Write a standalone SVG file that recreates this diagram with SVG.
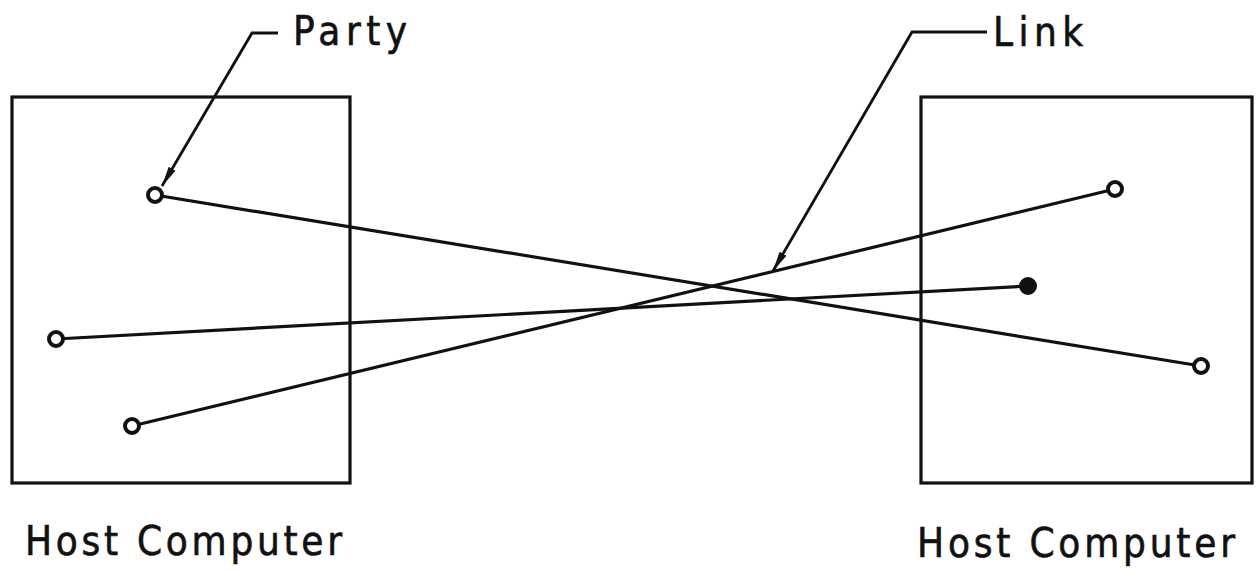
<svg xmlns="http://www.w3.org/2000/svg" width="1257" height="571" viewBox="0 0 1257 571">
<style>
.box{fill:none;stroke:#111;stroke-width:3.2}
.ln{fill:none;stroke:#111;stroke-width:3.2}
.ld{fill:none;stroke:#111;stroke-width:2.8}
.pt{fill:#fff;stroke:#111;stroke-width:4}
.lbl{font-family:"DejaVu Sans Condensed","DejaVu Sans",sans-serif;font-size:40px;fill:#111;stroke:#111;stroke-width:0.6}
</style>
<defs>
<marker id="ah" viewBox="0 0 20 10" refX="20" refY="5" markerWidth="20" markerHeight="10" markerUnits="userSpaceOnUse" orient="auto">
<path d="M0,1 L20,5 L0,9 Z" fill="#111"/>
</marker>
</defs>
<rect width="1257" height="571" fill="#fff"/>
<g id="host-left">
<rect class="box" x="12" y="97" width="338" height="386"/>
<text class="lbl" x="25" y="555" textLength="317" lengthAdjust="spacing">Host Computer</text>
</g>
<g id="host-right">
<rect class="box" x="921" y="97" width="331" height="386"/>
<text class="lbl" x="917" y="557" textLength="318" lengthAdjust="spacing">Host Computer</text>
</g>
<g id="connectors">
<line class="ln" x1="155" y1="195" x2="1201" y2="366"/>
<line class="ln" x1="56" y1="339" x2="1028" y2="286"/>
<line class="ln" x1="132" y1="426" x2="1115" y2="189"/>
<polyline class="ld" points="278,33 252,33 162,186" marker-end="url(#ah)"/>
<polyline class="ld" points="987,32 912,32 773,271" marker-end="url(#ah)"/>
</g>
<g id="party-label">
<text class="lbl" x="293" y="45" textLength="114" lengthAdjust="spacing">Party</text>
</g>
<g id="link-label">
<text class="lbl" x="993" y="46" textLength="90" lengthAdjust="spacing">Link</text>
</g>
<g id="parties">
<circle class="pt" cx="155" cy="195" r="7"/>
<circle class="pt" cx="56" cy="339" r="7"/>
<circle class="pt" cx="132" cy="426" r="7"/>
<circle class="pt" cx="1115" cy="189" r="7"/>
<circle class="pt" cx="1028" cy="286" r="7" style="fill:#111"/>
<circle class="pt" cx="1201" cy="366" r="7"/>
</g>
</svg>
